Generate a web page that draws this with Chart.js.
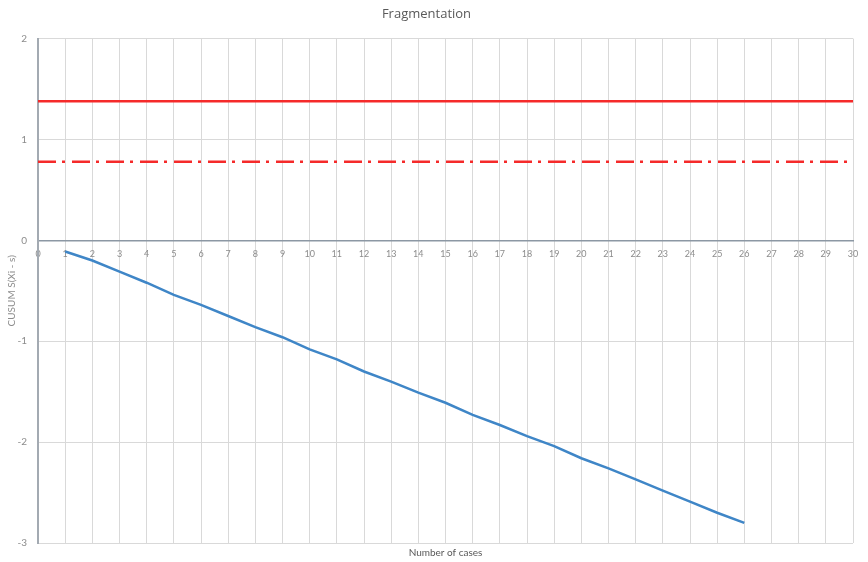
<!DOCTYPE html>
<html>
<head>
<meta charset="utf-8">
<script src="https://cdn.jsdelivr.net/npm/chart.js@4/dist/chart.umd.min.js"></script>
<style>
  html, body { margin: 0; padding: 0; background: #fff; }
  #wrap { width: 868px; height: 562px; }
</style>
</head>
<body>
<div id="wrap"><canvas id="chart" width="868" height="562"></canvas></div>
<script>
const cases = [1, 2, 3, 4, 5, 6, 7, 8, 9, 10, 11, 12, 13, 14, 15, 16, 17, 18, 19, 20, 21, 22, 23, 24, 25, 26]
const cusum = [-0.11, -0.20, -0.31, -0.42, -0.54, -0.64, -0.75, -0.86, -0.96, -1.08, -1.18, -1.30, -1.40,
  -1.51, -1.61, -1.73, -1.83, -1.94, -2.04, -2.16, -2.26, -2.37, -2.48, -2.59, -2.70, -2.80]
const limitRange = [0, 30]
const upperLimit = 1.38
const lowerLimit = 0.78
const yTicks = [-3, -2, -1, 0, 1, 2]

const font = "Lato, 'Open Sans', sans-serif"

const lineData = cases.map((c, i) => ({ x: c, y: cusum[i] }))
const flat = v => limitRange.map(x => ({ x, y: v }))

new Chart(document.getElementById("chart"), {
  type: "line",
  data: {
    datasets: [
      {
        label: "CUSUM",
        data: lineData,
        borderColor: "#3f86c7",
        borderWidth: 2.5,
        pointRadius: 0,
        tension: 0
      },
      {
        label: "h1",
        data: flat(upperLimit),
        borderColor: "#f52a2a",
        borderWidth: 2.5,
        pointRadius: 0
      },
      {
        label: "h0",
        data: flat(lowerLimit),
        borderColor: "#f52a2a",
        borderWidth: 2.5,
        borderDash: [18, 6, 3, 7],
        pointRadius: 0
      }
    ]
  },
  options: {
    responsive: false,
    animation: false,
    layout: { padding: { left: 0, right: 15, top: 0, bottom: 0 } },
    plugins: {
      legend: { display: false },
      tooltip: { enabled: false },
      title: {
        display: true,
        text: "Fragmentation",
        color: "#595959",
        font: { family: "'Open Sans', sans-serif", size: 13, weight: "normal" },
        padding: { top: 6, bottom: 17 }
      }
    },
    scales: {
      x: {
        type: "linear",
        position: { y: 0 },
        min: 0,
        max: 30,
        grid: { color: "#d9d9d9", lineWidth: 1, drawTicks: false },
        border: { color: "#8c98a4", width: 1.5 },
        ticks: {
          stepSize: 1,
          autoSkip: false,
          maxRotation: 0,
          padding: 8,
          color: "#8c8c8c",
          font: { family: font, size: 9 }
        }
      },
      x2: {
        type: "linear",
        position: "bottom",
        min: 0,
        max: 30,
        grid: { display: false },
        border: { display: false },
        ticks: { display: false },
        title: {
          display: true,
          text: "Number of cases",
          color: "#595959",
          font: { family: font, size: 10 },
          padding: { top: 0, bottom: 3 }
        },
        afterFit: s => { s.height = 19 }
      },
      y: {
        min: -3,
        max: 2,
        afterBuildTicks: s => { s.ticks = yTicks.map(v => ({ value: v })) },
        grid: { color: "#d9d9d9", lineWidth: 1, drawTicks: false },
        border: { color: "#a3aab2", width: 2 },
        ticks: {
          padding: 11,
          color: "#8c8c8c",
          font: { family: font, size: 10 }
        },
        title: {
          display: true,
          text: "CUSUM S(Xi - s)",
          color: "#8c8c8c",
          font: { family: font, size: 10 },
          padding: { top: 6, bottom: 0 }
        },
        afterFit: s => { s.width = 38 }
      }
    }
  }
})
</script>
</body>
</html>
